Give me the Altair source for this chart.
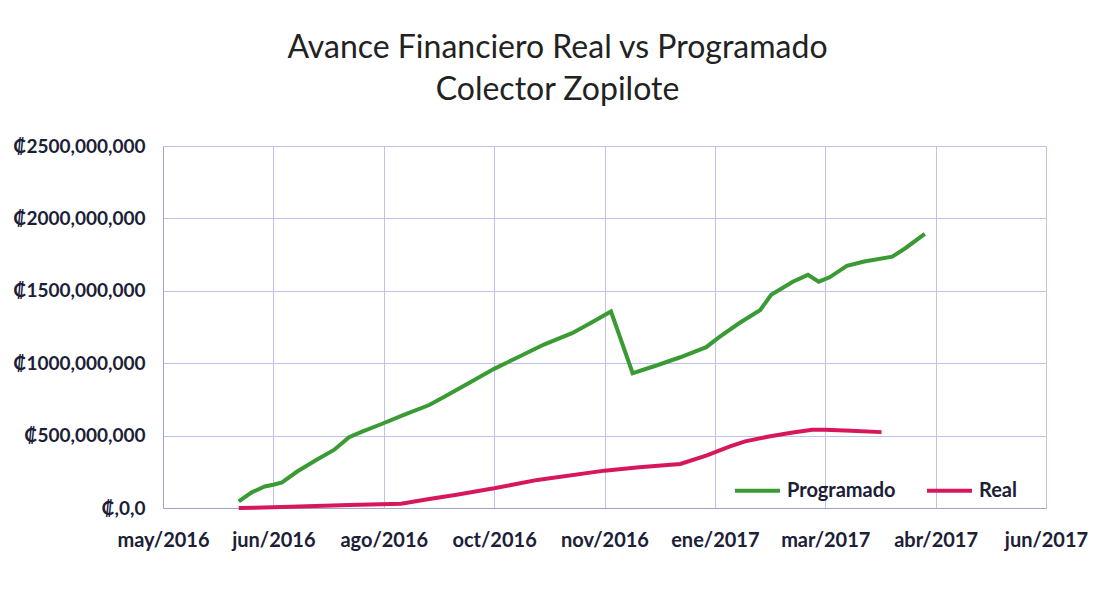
import altair as alt
import pandas as pd

# ---- data ----
prog_dates = ["2016-06-05", "2016-06-11", "2016-06-17", "2016-06-21", "2016-06-25",
              "2016-07-02", "2016-07-11", "2016-07-19", "2016-07-26", "2016-08-01",
              "2016-08-10", "2016-08-20", "2016-09-01", "2016-09-08", "2016-09-20",
              "2016-10-01", "2016-10-12", "2016-10-24", "2016-11-06", "2016-11-14",
              "2016-11-24", "2016-12-04", "2016-12-15", "2016-12-26", "2017-01-07",
              "2017-01-13", "2017-01-22", "2017-02-01", "2017-02-06", "2017-02-16",
              "2017-02-23", "2017-02-28", "2017-03-05", "2017-03-13", "2017-03-21",
              "2017-04-03", "2017-04-09", "2017-04-18"]
prog_values = [46e6, 108e6, 149e6, 161e6, 177e6,
               252e6, 333e6, 401e6, 489e6, 528e6,
               580e6, 642e6, 711e6, 768e6, 869e6,
               961e6, 1041e6, 1129e6, 1207e6, 1272e6,
               1357e6, 931e6, 984e6, 1041e6, 1111e6,
               1180e6, 1274e6, 1368e6, 1472e6, 1563e6,
               1610e6, 1563e6, 1593e6, 1672e6, 1702e6,
               1736e6, 1794e6, 1893e6]

real_dates = ["2016-06-05", "2016-06-21", "2016-07-26", "2016-08-19", "2016-09-01",
              "2016-09-13", "2016-10-01", "2016-10-21", "2016-11-21", "2016-12-07",
              "2016-12-26", "2017-01-07", "2017-01-18", "2017-01-25", "2017-02-05",
              "2017-02-16", "2017-02-25", "2017-03-03", "2017-03-15", "2017-03-29"]
real_values = [0, 5e6, 20e6, 30e6, 62e6,
               90e6, 136e6, 194e6, 258e6, 281e6,
               304e6, 362e6, 425e6, 460e6, 494e6,
               522e6, 540e6, 540e6, 534e6, 524e6]

series_names = ["Programado", "Real"]
series_colors = ["#3a9a33", "#d6175c"]

x_tick_dates = ["2016-05-01", "2016-06-21", "2016-08-11", "2016-10-01", "2016-11-21",
                "2017-01-11", "2017-03-03", "2017-04-23", "2017-06-13"]
x_tick_labels = ["may/2016", "jun/2016", "ago/2016", "oct/2016", "nov/2016",
                 "ene/2017", "mar/2017", "abr/2017", "jun/2017"]

y_ticks = [0, 500000000, 1000000000, 1500000000, 2000000000, 2500000000]
y_tick_labels = ["\u20a1,0,0", "\u20a1500,000,000", "\u20a11000,000,000",
                 "\u20a11500,000,000", "\u20a12000,000,000", "\u20a12500,000,000"]

title_lines = ["Avance Financiero Real vs Programado", "Colector Zopilote"]

# ---- build table ----
rows = []
for d, v in zip(prog_dates, prog_values):
    rows.append({"fecha": d + "T00:00:00", "valor": v, "serie": series_names[0]})
for d, v in zip(real_dates, real_values):
    rows.append({"fecha": d + "T00:00:00", "valor": v, "serie": series_names[1]})
df = pd.DataFrame(rows)


def dt(s):
    y, m, d = (int(p) for p in s.split("-"))
    return alt.DateTime(year=y, month=m, date=d)


x_vals = [dt(s) for s in x_tick_dates]
x_label_expr = "[{}][indexof([{}], timeFormat(datum.value, '%Y-%m-%d'))]".format(
    ",".join("'" + s + "'" for s in x_tick_labels),
    ",".join("'" + s + "'" for s in x_tick_dates),
)
y_label_expr = "[{}][indexof([{}], datum.value)]".format(
    ",".join("'" + s + "'" for s in y_tick_labels),
    ",".join(str(v) for v in y_ticks),
)

FONT = "Lato"
TXT = "#1b2036"
GRID = "#bcc2ea"
DOMAIN = "#9ea4cc"

chart = alt.Chart(df).mark_line(strokeWidth=4).encode(
    x=alt.X(
        "fecha:T",
        scale=alt.Scale(domain=[x_vals[0], x_vals[-1]], nice=False),
        axis=alt.Axis(
            values=x_vals, labelExpr=x_label_expr, title=None, grid=True,
            ticks=False, labelFont=FONT, labelFontSize=20, labelFontWeight="bold",
            labelColor=TXT, labelPadding=22, labelAngle=0, labelFlush=False,
            labelOverlap=False, domainColor=DOMAIN, gridColor=GRID,
        ),
    ),
    y=alt.Y(
        "valor:Q",
        scale=alt.Scale(domain=[y_ticks[0], y_ticks[-1]], nice=False),
        axis=alt.Axis(
            values=y_ticks, labelExpr=y_label_expr, title=None, grid=True,
            ticks=False, labelFont=FONT, labelFontSize=19, labelFontWeight="bold",
            labelColor=TXT, labelPadding=18, domainColor=DOMAIN, gridColor=GRID,
        ),
    ),
    color=alt.Color(
        "serie:N",
        scale=alt.Scale(domain=series_names, range=series_colors),
        legend=alt.Legend(
            title=None, orient="none", legendX=570, legendY=320,
            direction="horizontal", symbolType="stroke", symbolSize=2025,
            symbolStrokeWidth=4, labelFont=FONT, labelFontSize=20,
            labelFontWeight="bold", labelColor=TXT, labelOffset=5,
            columnPadding=23,
        ),
    ),
).properties(
    width=883,
    height=362,
    autosize="none",
    padding={"left": 155, "top": 138, "right": 50, "bottom": 80},
    title=alt.TitleParams(
        text=title_lines, font=FONT, fontSize=32, fontWeight="normal",
        color="#222222", anchor="middle", dx=-47, offset=30, lineHeight=42,
    ),
).configure_view(stroke=None).configure(background="white")

chart.save("out.html", embed_options={"renderer": "svg", "actions": False})
